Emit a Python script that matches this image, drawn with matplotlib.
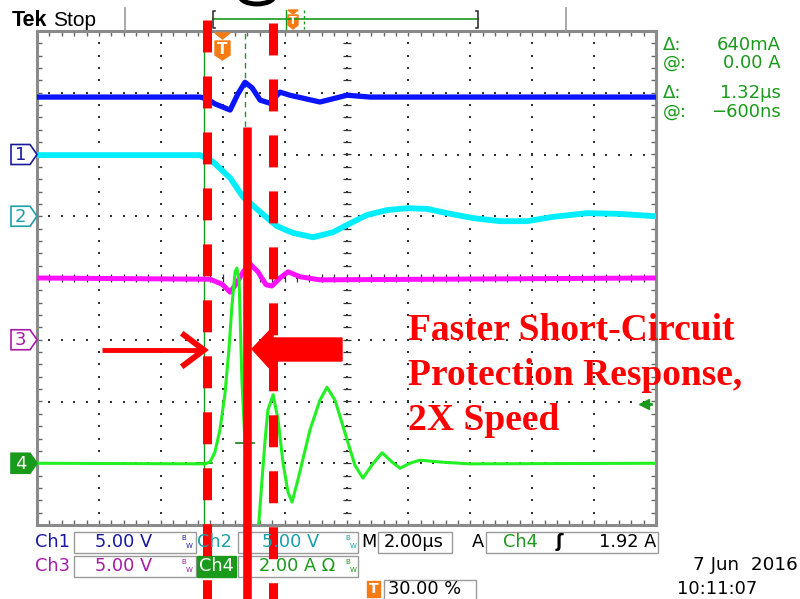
import numpy as np
import matplotlib.pyplot as plt
from matplotlib.patches import Rectangle, Polygon, Arc

plt.rcParams['lines.scale_dashes'] = False
plt.rcParams['font.family'] = ['DejaVu Sans']

# time in microseconds (2 us/div, trigger at 30 %), traces in screen divisions
ch1_t = [-6.0, -0.73, -0.51, -0.25, 0.24, 0.49, 0.72, 0.95, 1.21, 1.53, 1.85, 2.17, 3.14, 4.02, 4.76, 14.0]
ch1_y = [2.93, 2.93, 2.90, 2.82, 2.72, 2.98, 3.17, 3.08, 2.88, 2.83, 3.01, 2.96, 2.85, 2.96, 2.93, 2.93]

ch2_t = [-6.0, -0.73, -0.31, 0.24, 0.66, 1.21, 1.75, 2.27, 2.92, 3.56, 4.02, 4.66, 5.31, 5.95,
         6.60, 7.25, 8.09, 8.96, 9.83, 10.67, 11.77, 12.74, 14.0]
ch2_y = [1.99, 1.99, 1.88, 1.62, 1.31, 1.07, 0.84, 0.73, 0.66, 0.74, 0.86, 1.02, 1.10, 1.13,
         1.12, 1.05, 0.97, 0.92, 0.92, 0.99, 1.05, 1.04, 1.00]

ch3_t = [-6.0, -0.41, -0.02, 0.24, 0.43, 0.66, 0.88, 1.14, 1.40, 1.59, 1.85, 2.11, 2.50, 3.14, 14.0]
ch3_y = [0.0, -0.02, -0.10, -0.23, -0.10, 0.10, 0.23, 0.10, -0.11, -0.13, 0.0, 0.10, 0.02, -0.03, 0.0]

ch4_t = [-6.0, -0.57, -0.41, -0.25, -0.09, 0.07, 0.20, 0.30, 0.40, 0.46, 0.53, 0.62, 0.75, 0.88,
         1.04, 1.17, 1.27, 1.37, 1.46, 1.63, 1.79, 1.95, 2.11, 2.24, 2.43, 2.82, 3.14, 3.37, 3.63,
         4.02, 4.27, 4.53, 4.82, 5.15, 5.47, 5.73, 6.05, 6.37, 7.02, 7.99, 14.0]
ch4_y = [-3.0, -3.01, -2.98, -2.82, -2.46, -1.89, -1.17, -0.44, 0.10, 0.16, -0.03, -1.65, -2.95, -4.3,
         -4.3, -3.95, -3.27, -2.62, -2.14, -1.89, -2.30, -3.0, -3.47, -3.63, -3.27, -2.46, -1.98, -1.77, -1.98,
         -2.62, -3.03, -3.24, -3.03, -2.83, -2.98, -3.08, -3.0, -2.95, -2.98, -3.01, -3.0]

ch_marker_lvl = [2.0, 1.0, -1.0, -3.0]
cursor_t = [-0.6, 0.72]
cursor_i = [-3.0, -2.68]   # ch4: 0.00 A and +640 mA at 2 A/div
trig_level = -2.04

readout_lbl = ['Δ:', '@:', 'Δ:', '@:']
readout_val = ['640mA', '0.00 A', '1.32µs', '−600ns']
note_lines = ['Faster Short-Circuit', 'Protection Response,', '2X Speed']

C1, C2, C3, C4 = '#1a1aa0', '#1aa0a8', '#a81aa8', '#1a9a1a'
ORANGE = '#f57c14'
RED = '#ff0000'

fig = plt.figure(figsize=(8, 5.99), dpi=100)
W, H = 800, 599

# scope screen
sc = fig.add_axes([37 / W, 1 - 525 / H, 619 / W, 494 / H])
sc.set_xlim(-6, 14)
sc.set_ylim(-4, 4)
sc.set_xticks([])
sc.set_yticks([])
for s in sc.spines.values():
    s.set_color('#8a8a8a')
    s.set_linewidth(2.2)

fine_x = np.arange(-6, 14.01, 0.4)
fine_y = np.arange(-4, 4.01, 0.2)
dot = dict(ls='none', marker='s', ms=1.5, mew=0, color='#333333', zorder=1)
for gx in np.arange(-4, 13, 2):
    sc.plot(np.full_like(fine_y, gx), fine_y, **dot)
for gy in np.arange(-3, 4, 1):
    sc.plot(fine_x, np.full_like(fine_x, gy), **dot)
# centre cross ticks
sc.plot(np.full_like(fine_y, 4.0), fine_y, ls='none', marker='_', ms=6, mew=0.9, color='#333333', zorder=1)
sc.plot(fine_x, np.zeros_like(fine_x), ls='none', marker='|', ms=6, mew=0.9, color='#333333', zorder=1)
# edge ticks
tk = dict(ls='none', mew=1.0, color='#666666', zorder=1)
sc.plot(fine_x, np.full_like(fine_x, -4), marker='|', ms=7, **tk)
sc.plot(fine_x, np.full_like(fine_x, 4), marker='|', ms=7, **tk)
sc.plot(np.full_like(fine_y, -6), fine_y, marker='_', ms=7, **tk)
sc.plot(np.full_like(fine_y, 14), fine_y, marker='_', ms=7, **tk)

# cursors
sc.axvline(cursor_t[0], color=C4, lw=1.0, zorder=2)
sc.axvline(cursor_t[1], color=C4, lw=1.0, dashes=(4, 3), zorder=2)
sc.plot([cursor_t[0] - 0.25, cursor_t[0] + 0.25], [cursor_i[0]] * 2, color='#0f7f0f', lw=1.2, zorder=2)
sc.plot([cursor_t[1] - 0.28, cursor_t[1] + 0.28], [cursor_i[1]] * 2, color='#0f7f0f', lw=1.2, zorder=2)

# traces
sc.plot(ch2_t, ch2_y, color='#00eeff', lw=4.2, solid_joinstyle='round', zorder=3)
sc.plot(ch1_t, ch1_y, color='#0a14ff', lw=3.8, solid_joinstyle='round', zorder=3)
sc.plot(ch3_t, ch3_y, color='#ff10ff', lw=3.6, solid_joinstyle='round', zorder=3)
sc.plot(ch4_t, ch4_y, color='#22f022', lw=2.2, solid_joinstyle='round', zorder=4)

sc.plot([13.6], [trig_level], marker='<', ms=7, color=C4, clip_on=False, zorder=5)
sc.plot([13.6, 13.85], [trig_level] * 2, color=C4, lw=2, clip_on=False, zorder=5)


def to_px(t, v):
    x, y = sc.transData.transform((t, v))
    return x, H - y


# overlay in pixel coordinates
ov = fig.add_axes([0, 0, 1, 1], zorder=5)
ov.set_xlim(0, W)
ov.set_ylim(H, 0)
ov.axis('off')
ov.patch.set_alpha(0)

# header
ov.text(12, 26, 'Tek', fontsize=15.5, fontweight='bold', family='Liberation Sans', va='baseline')
ov.text(53, 26, 'Stop', fontsize=15, family='Liberation Sans', va='baseline')
ov.plot([125, 125], [8, 31], color='#999999', lw=1.2)
ov.plot([566, 566], [8, 31], color='#999999', lw=1.2)
ov.plot([213, 478], [19, 19], color=C4, lw=1.2)
ov.plot([215, 213, 213, 215], [11, 11, 28, 28], color='#333333', lw=1.2)
ov.plot([476, 478, 478, 476], [11, 11, 28, 28], color='#333333', lw=1.2)
ov.plot([286, 286], [10, 29], color=C4, lw=1.0)
ov.plot([304, 304], [10, 29], color=C4, lw=1.0, dashes=(2, 2))
ov.add_patch(Polygon([(288, 10), (298, 10), (293, 14)], closed=True, color=ORANGE))
ov.add_patch(Polygon([(288, 15), (298, 15), (298, 25), (293, 29), (288, 25)], closed=True, color=ORANGE))
ov.text(293, 21, 'T', color='white', fontsize=8, fontweight='bold', ha='center', va='center')
ov.add_patch(Arc((257, -4), 34, 16, theta1=0, theta2=180, color='black', lw=3.5))

# trigger position marker
ov.add_patch(Polygon([(215, 33), (230, 33), (222.5, 39)], closed=True, color=ORANGE))
ov.add_patch(Polygon([(215, 41), (230, 41), (230, 55), (222.5, 60), (215, 55)], closed=True, color=ORANGE))
ov.text(222.5, 49, 'T', color='white', fontsize=11, fontweight='bold', ha='center', va='center')

# channel ground markers
mk_colors = [C1, C2, C3, C4]
for i, lvl in enumerate(ch_marker_lvl):
    _, py = to_px(-6, lvl)
    filled = i == 3
    ov.add_patch(Polygon([(11, py - 10), (30, py - 10), (37, py), (30, py + 10), (11, py + 10)],
                         closed=True, facecolor=mk_colors[i] if filled else 'white',
                         edgecolor=mk_colors[i], lw=1.2))
    ov.text(20.5, py + 0.5, str(i + 1), color='white' if filled else mk_colors[i],
            fontsize=13, ha='center', va='center')

# cursor readouts
for i, (lb, val) in enumerate(zip(readout_lbl, readout_val)):
    yb = [50, 68, 98, 117][i]
    ov.text(663, yb, lb, color=C4, fontsize=13, va='baseline')
    ov.text(781, yb, val, color=C4, fontsize=13, va='baseline', ha='right')

# red annotation
ov.plot([207, 207], [20, H], color=RED, lw=6.5, dashes=(23, 17.3), solid_capstyle='butt')
ov.plot([273, 273], [23, H], color=RED, lw=6.5, dashes=(23, 17.3), solid_capstyle='butt')
ov.plot([246.5, 246.5], [127, H], color=RED, lw=6.2, solid_capstyle='butt')
ov.plot([102, 201], [350, 350], color=RED, lw=3.5, solid_capstyle='butt')
ov.plot([184, 204, 184], [335, 350, 365], color=RED, lw=4.2, solid_joinstyle='miter')
ov.add_patch(Polygon([(252, 349), (273, 327), (273, 338), (342, 338), (342, 361), (273, 361), (273, 372)],
                     closed=True, color=RED))
for i, line in enumerate(note_lines):
    ov.text(408, 340 + 45 * i, line, color=RED, fontsize=27, fontweight='bold',
            family='Liberation Serif', va='baseline')


# bottom status area
def box(x0, x1, y0, y1):
    ov.add_patch(Rectangle((x0, y0), x1 - x0, y1 - y0, fill=False, edgecolor='#9a9a9a', lw=1.0))


def bw(x, y, c):
    ov.text(x - 1, y - 4, 'B', color=c, fontsize=5, ha='center', va='center')
    ov.text(x + 4, y + 4, 'W', color=c, fontsize=5, ha='center', va='center')


fs = 12.8
r1, r2, r3 = 542, 566, 589
ov.text(35, r1, 'Ch1', color=C1, fontsize=fs, va='center')
box(74, 196, 532, 553)
ov.text(95, r1, '5.00 V', color=C1, fontsize=fs, va='center')
bw(185, r1, C1)
ov.text(197, r1, 'Ch2', color=C2, fontsize=fs, va='center')
box(238, 358, 532, 553)
ov.text(262, r1, '5.00 V', color=C2, fontsize=fs, va='center')
bw(349, r1, C2)
ov.text(361, r1, 'M', color='black', fontsize=fs, va='center')
box(378, 452, 532, 553)
ov.text(384, r1, '2.00µs', color='black', fontsize=fs, va='center')
ov.text(472, r1, 'A', color='black', fontsize=fs, va='center')
box(486, 658, 532, 553)
ov.text(503, r1, 'Ch4', color=C4, fontsize=fs, va='center')
ov.text(556, r1, 'ʃ', color='black', fontsize=fs, va='center', fontweight='bold')
ov.text(656, r1, '1.92 A', color='black', fontsize=fs, va='center', ha='right')

ov.text(35, r2, 'Ch3', color=C3, fontsize=fs, va='center')
box(74, 196, 556, 577)
ov.text(95, r2, '5.00 V', color=C3, fontsize=fs, va='center')
bw(185, r2, C3)
ov.add_patch(Rectangle((197, 556), 39, 21, color=C4))
ov.text(216.5, r2, 'Ch4', color='white', fontsize=fs, va='center', ha='center')
box(238, 358, 556, 577)
ov.text(259, r2, '2.00 A Ω', color=C4, fontsize=fs, va='center')
bw(349, r2, C4)

ov.add_patch(Rectangle((367, 581), 13, 16, color=ORANGE))
ov.text(373.5, r3, 'T', color='white', fontsize=10, fontweight='bold', ha='center', va='center')
box(384, 476, 580, 600)
ov.text(388, r3, '30.00 %', color='black', fontsize=fs, va='center')
ov.text(798, 565, '7 Jun  2016', color='black', fontsize=13.2, va='center', ha='right')
ov.text(677, r3, '10:11:07', color='black', fontsize=fs, va='center')

fig.savefig('out.png', dpi=100, facecolor='white')
